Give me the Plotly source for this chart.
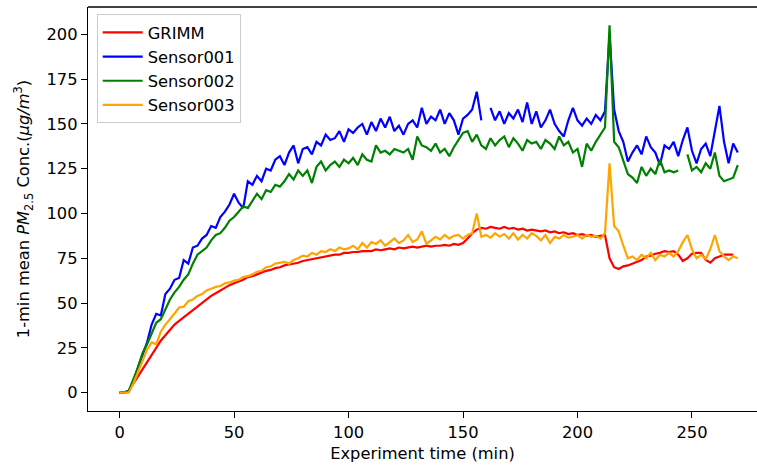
import plotly.graph_objects as go

time_min = list(range(0, 271, 2))

grimm = [0, 0, 1, 5, 9, 13, 17, 21, 25, 29, 32, 35, 38, 40, 42, 44.5, 46.5, 48, 50, 52,
         54, 55.5, 57, 58.5, 60, 61, 62, 63, 64.5, 65, 66, 67, 68, 68.5, 69.5, 70, 71, 71.5, 72, 72.5,
         73.5, 74, 74.5, 75, 75.5, 76, 76.5, 77, 77, 78, 78, 78.5, 78.5, 79, 79, 79, 80, 79.5, 80, 80.5,
         80, 81, 80.5, 81, 81.5, 81, 81.5, 82, 81.5, 82, 82, 82.5, 82, 83, 82.5, 83.5, 86, 89, 91, 92,
         91.5, 92.5, 92, 91.5, 92.5, 91.5, 92, 91, 91.5, 90.5, 91, 90.5, 90, 90.5, 89.5, 90, 89, 89.5, 88.5, 89,
         88, 88.5, 87.5, 88, 87, 87.5, 88, 75, 70, 69, 70.5, 71, 72, 73, 74, 76, 76.5, 77.5,
         78, 79, 78.5, 79, 77, 73.5, 75, 77.5, 78, 78, 74, 72.5, 75, 76, 77, 77, 77]

sensor001 = [0, 0, 1, 6, 14, 21, 28, 38, 44, 43, 55, 58, 63, 64, 74, 72, 81, 82, 86, 88,
             93, 92, 98, 101, 105, 111, 106, 103, 118, 116, 121, 118, 125, 124, 130, 132, 127, 134, 138, 128,
             136, 137, 133, 140, 138, 144, 141, 142, 146, 140, 147, 145, 148, 150, 144, 151, 146, 153, 148, 154,
             146, 149, 144, 150, 152, 148, 159, 150, 154, 152, 158, 150, 156, 152, 144, 153, 155, 158, 168, 152,
             None, 159, 152, 157, 150, 156, 153, 158, 151, 162, 150, 157, 148, 152, 158, 150, 146, 143, 152, 159,
             152, 149, 153, 150, 155, 152, 157, 200, 158, 146, 140, 129, 134, 138, 133, 143, 137, 134, 127, 138,
             136, 140, 132, 141, 148, 135, 128, 136, 139, 132, 145, 160, 140, 128, 139, 134, 133]

sensor002 = [0, 0, 1, 7, 14, 22, 27, 33, 39, 41, 47, 52, 56, 59, 63, 66, 72, 77, 79, 81,
             85, 88, 89, 92, 96, 98, 101, 104, 103, 107, 111, 108, 113, 112, 116, 115, 118, 122, 119, 124,
             121, 124, 117, 126, 129, 124, 127, 129, 126, 130, 128, 131, 127, 133, 130, 129, 138, 134, 135, 133,
             136, 135, 134, 136, 130, 143, 138, 137, 135, 139, 134, 136, 132, 137, 141, 145, 146, 140, 144, 138,
             136, 142, 138, 141, 143, 137, 142, 139, 135, 141, 139, 140, 136, 141, 139, 136, 143, 138, 140, 134,
             136, 126, 139, 135, 140, 144, 148, 205, 140, 137, 130, 122, 120, 117, 126, 121, 125, 122, 130, 123,
             124, 123, 124, None, 133, 124, 126, 123, 128, 125, 134, 121, 118, 119, 120, 127]

sensor003 = [0, 0, 0, 5, 11, 17, 24, 28, 27, 34, 38, 41, 44, 47.5, 48, 51, 52, 54, 55, 57,
             58, 59, 59.5, 61, 61.5, 62.5, 63, 64.5, 65, 66, 67.5, 68, 70, 70.5, 72, 72.5, 73, 72, 74, 75,
             76.5, 76, 78, 77, 79, 78.5, 80, 79, 81, 80, 80.5, 82, 80, 83.5, 81, 84, 83, 85, 82, 84,
             86, 83.5, 85, 88, 84, 85.5, 90, 83, 85, 87, 85.5, 88, 86, 87.5, 88, 86, 88, 89, 100, 87,
             88, 86.5, 89, 87, 88.5, 86, 89, 85.5, 88, 86, 89, 87.5, 85, 88, 83.5, 87, 86, 88, 86.5, 87,
             88, 86, 88, 87, 87.5, 86, 89, 128, 93, 90, 82, 75, 76, 74, 77, 75, 78, 74, 77, 76,
             78, 76, 79, 84, 88, 80, 75, 77, 74.5, 80, 88, 79, 76, 74, 76, 75]

series_names = ["GRIMM", "Sensor001", "Sensor002", "Sensor003"]
series_colors = ["red", "blue", "green", "orange"]
series_values = [grimm, sensor001, sensor002, sensor003]

x_ticks = [0, 50, 100, 150, 200, 250]
y_ticks = [0, 25, 50, 75, 100, 125, 150, 175, 200]

FONT = "DejaVu Sans"
FS = 16.3

fig = go.Figure()
for name, color, vals in zip(series_names, series_colors, series_values):
    fig.add_trace(go.Scatter(
        x=time_min, y=vals, mode="lines", name=name,
        line=dict(color=color, width=2.2), connectgaps=False,
        legendgroup=name,
    ))

axis_common = dict(
    showgrid=False, zeroline=False, showline=True, linecolor="black", linewidth=1.3,
    ticks="outside", ticklen=6, tickwidth=1.3, tickcolor="black", automargin=False,
    tickfont=dict(family=FONT, size=FS, color="black"),
)

fig.update_layout(
    width=757, height=465,
    margin=dict(l=88, r=0, t=7, b=54),
    paper_bgcolor="white", plot_bgcolor="white",
    font=dict(family=FONT, size=FS, color="black"),
    xaxis=dict(range=[-13.8, 278.4], tickvals=x_ticks,
               title=dict(text="Experiment time (min)", font=dict(family=FONT, size=FS), standoff=6),
               **axis_common),
    yaxis=dict(range=[-10.25, 215.25], tickvals=y_ticks,
               title=dict(text="1-min mean <i>PM</i><sub>2.5</sub> Conc.(<i>μg/m</i><sup>3</sup>)",
                          font=dict(family=FONT, size=FS), standoff=12),
               **axis_common),
    legend=dict(x=0.013, y=0.982, xanchor="left", yanchor="top",
                bgcolor="rgba(255,255,255,0.8)", bordercolor="#cccccc", borderwidth=1,
                font=dict(family=FONT, size=FS, color="black"),
                tracegroupgap=0, itemwidth=40),
    showlegend=True,
)

fig.add_shape(type="line", xref="paper", yref="paper", x0=0, x1=1, y0=1, y1=1,
              line=dict(color="black", width=1.3))

fig.write_html("out.html", config={"displayModeBar": False},
               post_script="document.body.style.margin='0';")
